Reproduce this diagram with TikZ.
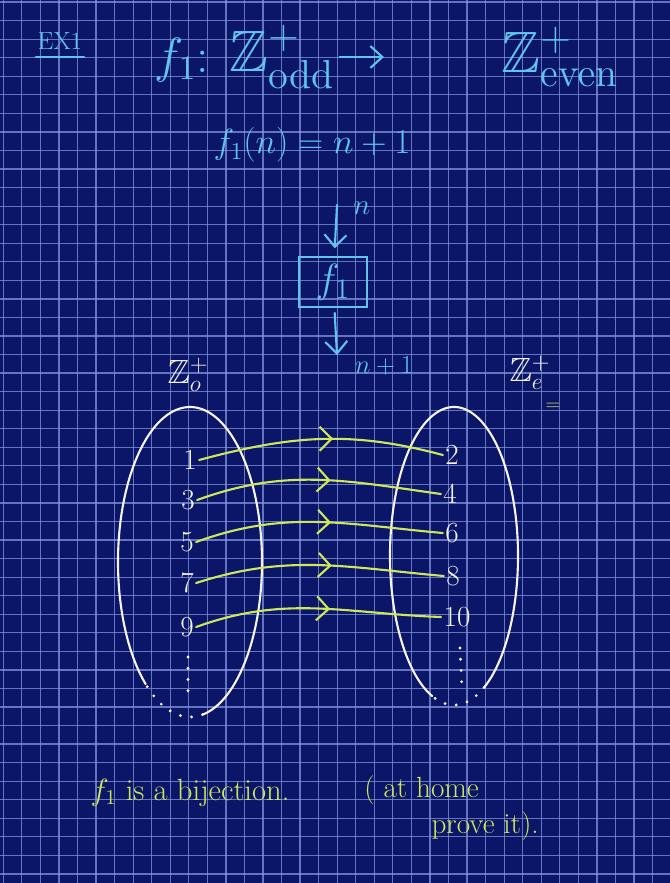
\documentclass[tikz,border=0pt]{standalone}
\usepackage{amsmath,amssymb}
\usetikzlibrary{arrows.meta,decorations.markings}
\definecolor{Board}{RGB}{12,22,104}
\definecolor{GridBlue}{RGB}{130,150,222}
\definecolor{Chalk}{RGB}{96,196,238}
\definecolor{Lime}{RGB}{206,232,92}
\definecolor{Paper}{RGB}{245,245,245}

\begin{document}
\begin{tikzpicture}[x=0.025cm, y=-0.025cm, line width=1.5pt, line cap=round,
        every node/.append style={font=\huge, inner sep=1pt},
        gridline/.style={GridBlue, line width=0.9pt, opacity=0.75},
        chalkarrow/.style={Chalk, -{Straight Barb[length=3mm,width=5.5mm]}},
        dotpath/.style={Paper, line width=2.2pt, dash pattern=on 0pt off 8pt},
        mapsto/.style={Lime, postaction={decorate},
          decoration={markings, mark=at position 0.55 with {\arrow[line width=1.5pt]{Straight Barb[length=3mm,width=6mm]}}}}]
      \tikzstyle{chalk} = [text=Chalk]
      \tikzstyle{num} = [text=Paper]
      \tikzstyle{note} = [text=Lime]
      \fill[Board] (0,0) rectangle (670,883);
      \useasboundingbox (0,0) rectangle (670,883);
      \foreach \k in {0,...,35}
        \draw[gridline] ({3.3+18.55*\k},0) -- ({3.3+18.55*\k},883);
      \foreach \k in {0,...,47}
        \draw[gridline] (0,{2.1+18.55*\k}) -- (670,{2.1+18.55*\k});

      \node (ex) [chalk, scale=0.85] at (60,41) {EX1};
      \draw[Chalk] ([yshift=-4pt]ex.south west) -- ([yshift=-4pt]ex.south east);
      \node (fone) [chalk, scale=1.7] at (182,60) {$f_1$:};
      \node (Zodd) [chalk, scale=2] at (282,57) {$\mathbb{Z}^{+}_{\mathrm{odd}}$};
      \node (Zeven) [chalk, scale=2] at (560,57) {$\mathbb{Z}^{+}_{\mathrm{even}}$};
      \draw[chalkarrow, shorten >=80pt] (Zodd) -- (Zeven);
      \node (rule) [chalk, scale=1.2] at (312,145) {$f_1(n) = n+1$};

      \node (machine) [chalk, draw=Chalk, scale=1.4, minimum width=1.2cm, minimum height=0.9cm] at (333,282) {$f_1$};
      \coordinate (input) at (337,205);
      \coordinate (output) at (337,355);
      \draw[chalkarrow, shorten >=5pt] (input) -- (machine);
      \draw[chalkarrow, shorten <=3pt] (machine) -- (output);
      \node (nin) [chalk] at (362,208) {$n$};
      \node (nout) [chalk, scale=0.9] at (384,366) {$n+1$};

      \node (Zo) [num, scale=1.15] at (188,375) {$\mathbb{Z}^{+}_{o}$};
      \node (Ze) [num, scale=1.15] at (530,373) {$\mathbb{Z}^{+}_{e}$};
      \node (eq) [note, scale=0.7] at (553,407) {$=$};

      \draw[Paper] (190,562) ++(128:72 and 155) arc (128:440:72 and 155);
      \draw[dotpath] (190,562) ++(80:72 and 155) arc (80:128:72 and 155);
      \draw[Paper] (454,556) ++(110:64 and 149) arc (110:422:64 and 149);
      \draw[dotpath] (454,556) ++(62:64 and 149) arc (62:110:64 and 149);

      \node (o1) [num] at (190,460) {1};
      \node (o3) [num] at (188,500) {3};
      \node (o5) [num] at (187,542) {5};
      \node (o7) [num] at (187,583) {7};
      \node (o9) [num] at (187,627) {9};
      \node (e2) [num] at (452,455) {2};
      \node (e4) [num] at (450,494) {4};
      \node (e6) [num] at (452,533) {6};
      \node (e8) [num] at (453,576) {8};
      \node (e10) [num] at (457,617) {10};
      \draw[dotpath] (188,657) -- (188,697);
      \draw[dotpath] (460,648) -- (462,690);

      \draw[mapsto] (o1.east) to[out=15,in=165] (e2.west);
      \draw[mapsto] (o3.east) to[out=20,in=172] (e4.west);
      \draw[mapsto] (o5.east) to[out=20,in=175] (e6.west);
      \draw[mapsto] (o7.east) to[out=18,in=175] (e8.west);
      \draw[mapsto] (o9.east) to[out=20,in=178] (e10.west);

      \node (claim) [note, scale=1.05, anchor=base west] at (88,800) {$f_1$ is a bijection.};
      \node (homework) [note, anchor=base west, align=left] at (362,833) {( at home\\\hspace*{2.3em}prove it).};
    \end{tikzpicture}
\end{document}
